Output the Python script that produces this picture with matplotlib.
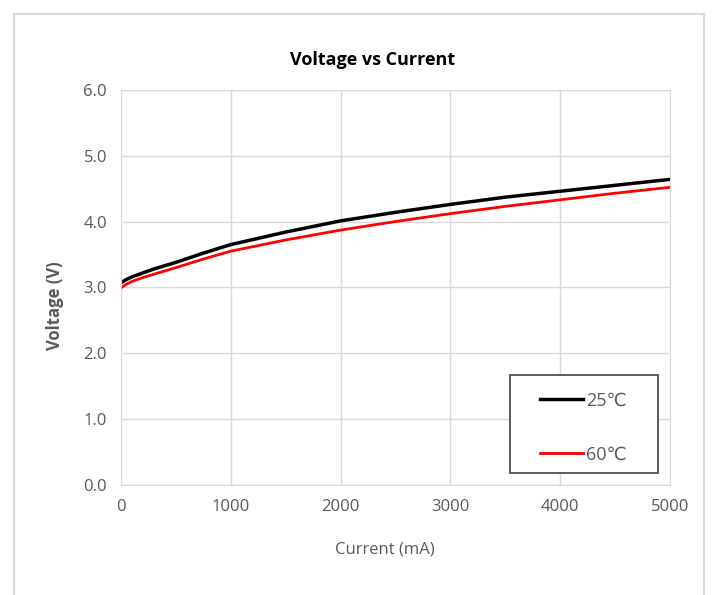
import matplotlib
matplotlib.use("Agg")
import matplotlib.pyplot as plt
from matplotlib.patches import Rectangle

plt.rcParams['font.family'] = ['Open Sans', 'DejaVu Sans']

# data
current = [0, 50, 100, 200, 300, 500, 750, 1000, 1500, 2000, 2500, 3000, 3500, 4000, 4500, 5000]
v_25 = [3.07, 3.12, 3.16, 3.22, 3.28, 3.38, 3.52, 3.65, 3.84, 4.01, 4.14, 4.26, 4.37, 4.46, 4.55, 4.64]
v_60 = [2.99, 3.05, 3.09, 3.15, 3.20, 3.30, 3.43, 3.55, 3.72, 3.87, 4.00, 4.12, 4.23, 4.33, 4.43, 4.52]
labels = ['25\u2103', '60\u2103']
x_ticks = [0, 1000, 2000, 3000, 4000, 5000]
y_ticks = [0.0, 1.0, 2.0, 3.0, 4.0, 5.0, 6.0]

GRID = '#d9d9d9'
TEXT = '#595959'

fig = plt.figure(figsize=(7.18, 5.95), dpi=100)
ax = fig.add_axes([0.1685, 0.185, 0.7645, 0.664])

# outer chart border
fig.patches.append(Rectangle((14 / 718, -0.05), 690 / 718, 1.05 - 14 / 595,
                             transform=fig.transFigure, fill=False,
                             edgecolor=GRID, lw=1.5))

ax.plot(current, v_25, color='black', lw=2.5, label=labels[0])
ax.plot(current, v_60, color='#ff0000', lw=2.0, label=labels[1])

ax.set_xlim(0, 5000)
ax.set_ylim(0, 6)
ax.set_xticks(x_ticks)
ax.set_yticks(y_ticks)
ax.set_yticklabels([f'{v:.1f}' for v in y_ticks])
ax.grid(True, color=GRID, lw=1)
ax.set_axisbelow(True)
for s in ax.spines.values():
    s.set_color(GRID)
ax.tick_params(length=0, colors=TEXT, labelsize=12, pad=10)

# title and axis labels are centred on the chart area, not the plot area
fig.text(373 / 718, 1 - 60 / 595, 'Voltage vs Current', fontsize=13,
         fontweight='bold', color='black', ha='center', va='center')
ax.set_xlabel('Current (mA)', fontsize=12, color=TEXT)
ax.xaxis.set_label_coords((385 - 121) / 549, -(550 - 485) / 395)
ax.set_ylabel('Voltage (V)', fontsize=12, fontweight='bold', color=TEXT)
ax.yaxis.set_label_coords(-(121 - 55) / 549, (485 - 306) / 395)
ax.xaxis.label.set_va('center')
ax.yaxis.label.set_va('center')

# legend box drawn separately so it can be wider than its contents
ax.add_patch(Rectangle((0.709, 0.03), 0.27, 0.248, transform=ax.transAxes,
                       facecolor='white', edgecolor='#404040', lw=1.2, zorder=3))
leg = ax.legend(loc='upper left', bbox_to_anchor=(0.763, 0.236), fontsize=13,
                frameon=False, handlelength=2.4, handletextpad=0.15,
                labelspacing=2.0, borderpad=0, borderaxespad=0)
leg.set_zorder(4)
for t in leg.get_texts():
    t.set_color(TEXT)

fig.savefig('out.png', dpi=100)
